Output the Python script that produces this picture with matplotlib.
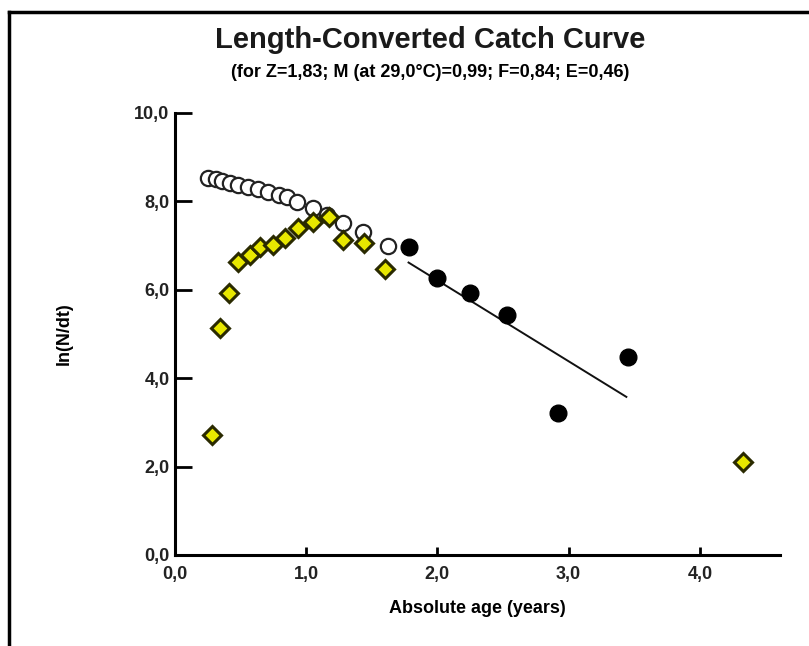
import matplotlib.pyplot as plt
from matplotlib.lines import Line2D

plt.rcParams['font.family'] = ['Liberation Sans', 'DejaVu Sans']

# open circles (points not used, upper curve)
open_age = [0.25, 0.31, 0.36, 0.42, 0.48, 0.56, 0.63, 0.71, 0.79, 0.85,
            0.93, 1.05, 1.16, 1.28, 1.43, 1.62]
open_ln = [8.53, 8.51, 8.46, 8.42, 8.37, 8.33, 8.28, 8.21, 8.14, 8.10,
           7.99, 7.85, 7.69, 7.51, 7.31, 6.99]

# yellow points (not used)
yel_age = [0.28, 0.34, 0.41, 0.48, 0.57, 0.65, 0.75, 0.84, 0.94, 1.05,
           1.17, 1.28, 1.44, 1.60, 4.33]
yel_ln = [2.71, 5.14, 5.93, 6.63, 6.79, 6.97, 7.01, 7.17, 7.40, 7.53,
          7.65, 7.13, 7.06, 6.47, 2.10]

# black points (used in regression)
used_age = [1.78, 2.00, 2.25, 2.53, 2.92, 3.45]
used_ln = [6.97, 6.27, 5.93, 5.43, 3.21, 4.48]

# regression line ln(N/dt) = a - Z*t
Z = 1.83
a = 9.87
line_age = [1.78, 3.44]

fig = plt.figure(figsize=(8.09, 6.46), dpi=100)
ax = fig.add_axes([0.2163, 0.1409, 0.7477, 0.6846])

ax.plot(open_age, open_ln, 'o', ms=11, mfc='white', mec='#222222', mew=1.6, zorder=3)
ax.plot(yel_age, yel_ln, 'D', ms=9.5, mfc='#e8e800', mec='#2a2a00', mew=2.2, zorder=4)
ax.plot(used_age, used_ln, 'o', ms=12, mfc='black', mec='black', zorder=4)
ax.plot(line_age, [a - Z * t for t in line_age], '-', color='#111111', lw=1.4, zorder=2)

ax.set_xlim(0, 4.61)
ax.set_ylim(0, 10)
ax.set_xticks([0, 1, 2, 3, 4])
ax.set_yticks([0, 2, 4, 6, 8, 10])
ax.set_xticklabels(['0,0', '1,0', '2,0', '3,0', '4,0'])
ax.set_yticklabels(['0,0', '2,0', '4,0', '6,0', '8,0', '10,0'])
for lab in ax.get_xticklabels() + ax.get_yticklabels():
    lab.set_fontweight('bold')
    lab.set_fontsize(13)
    lab.set_color('#222222')
ax.tick_params(axis='y', direction='in', length=12, width=2, pad=4)
ax.tick_params(axis='x', direction='in', length=6, width=2, pad=8)
ax.spines['top'].set_visible(False)
ax.spines['right'].set_visible(False)
ax.spines['left'].set_linewidth(2.2)
ax.spines['bottom'].set_linewidth(2.2)

ax.set_xlabel('Absolute age (years)', fontsize=13, fontweight='bold', labelpad=12)
ax.set_ylabel('ln(N/dt)', fontsize=13, fontweight='bold', labelpad=44)

fig.text(0.532, 0.938, 'Length-Converted Catch Curve', ha='center', va='center',
         fontsize=21, fontweight='bold', color='#1a1a1a')
fig.text(0.532, 0.888, '(for Z=1,83; M (at 29,0\u00b0C)=0,99; F=0,84; E=0,46)',
         ha='center', va='center', fontsize=13, fontweight='bold')

# frame around the figure (left and top visible)
fig.add_artist(Line2D([0.011, 0.011], [0, 0.981], color='black', lw=2.5))
fig.add_artist(Line2D([0.011, 1.0], [0.981, 0.981], color='black', lw=2.5))

fig.savefig('out.png', dpi=100)
